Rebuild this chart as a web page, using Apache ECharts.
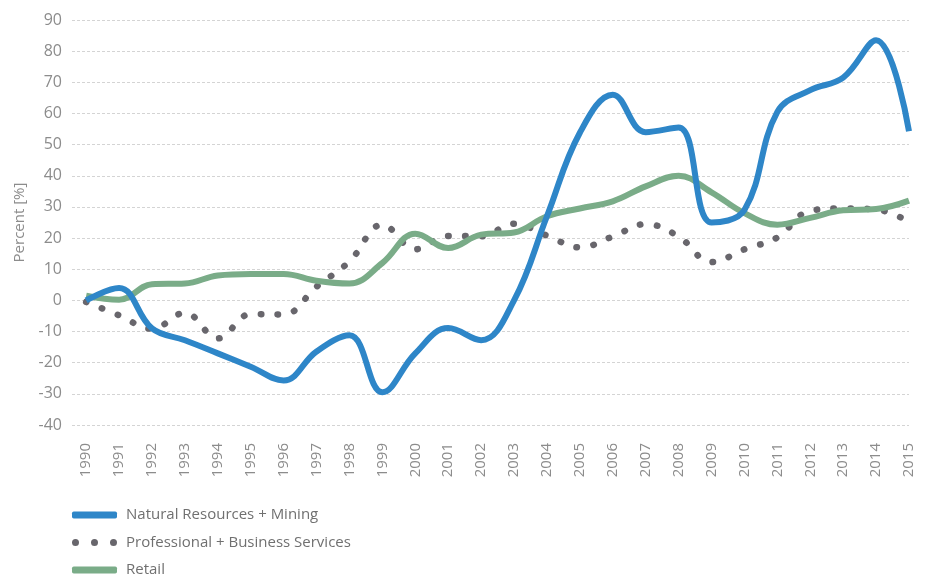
<!DOCTYPE html>
<html>
<head>
<meta charset="utf-8">
<script src="https://cdn.jsdelivr.net/npm/echarts@6/dist/echarts.min.js"></script>
<style>
  html, body { margin: 0; padding: 0; background: #fff; }
  #chart { width: 927px; height: 579px; }
</style>
</head>
<body>
<div id="chart"></div>
<script>
// 年份和三条曲线的数据
var years = [1990, 1991, 1992, 1993, 1994, 1995, 1996, 1997, 1998, 1999, 2000, 2001, 2002,
             2003, 2004, 2005, 2006, 2007, 2008, 2009, 2010, 2011, 2012, 2013, 2014, 2015];
var mining = [0, 4, -9, -12.8, -17, -21.3, -25.7, -16.4, -11.2, -29.5, -17, -8.9, -12.8,
              0, 27, 53.8, 66, 54, 55.5, 25, 29, 60.5, 67.5, 71.5, 83.5, 54.3];
var services = [-0.5, -4.8, -9.1, -4, -12.2, -4.4, -4.5, 4.4, 12.5, 24.3, 16.4, 20.7, 20.6,
                24.6, 20.8, 17, 20.5, 24.5, 20.5, 12.3, 16.4, 20.2, 28.8, 29.5, 29.2, 25.2];
var retail = [1.5, 0.2, 5.2, 5.4, 8, 8.5, 8.5, 6.3, 5.4, 12, 21.4, 16.8, 21.1,
              21.8, 27, 29.5, 31.8, 36.6, 40, 34.7, 28, 24.3, 26.5, 28.9, 29.3, 32];
var names = ['Natural Resources + Mining', 'Professional + Business Services', 'Retail'];

function pairs(vals) {
    return years.map(function(y, i) { return [y, vals[i]]; });
}

var font = 'Open Sans';
var grey = '#8c8c8c';
// 图例里的三个圆点
var dotsIcon = 'path://M0,3.5a3.5,3.5 0 1,0 7,0a3.5,3.5 0 1,0 -7,0Z' +
               'M19,3.5a3.5,3.5 0 1,0 7,0a3.5,3.5 0 1,0 -7,0Z' +
               'M38,3.5a3.5,3.5 0 1,0 7,0a3.5,3.5 0 1,0 -7,0Z';

var myChart = echarts.init(document.getElementById('chart'));

var option = {
    animation: false,
    grid: { left: 72, right: 18, top: 20, bottom: 154 },
    legend: {
        orient: 'vertical',
        left: 72,
        top: 507,
        padding: 0,
        itemWidth: 45,
        itemHeight: 7,
        itemGap: 11.5,
        textStyle: { fontFamily: font, fontSize: 15, lineHeight: 16, color: '#707070', padding: [0, 0, 0, 4] },
        data: [
            { name: names[0], icon: 'roundRect' },
            { name: names[1], icon: dotsIcon },
            { name: names[2], icon: 'roundRect' }
        ]
    },
    xAxis: {
        type: 'value',
        min: 1989.57,
        max: 2015,
        axisLine: { show: false },
        axisTick: { show: false },
        splitLine: { show: false },
        axisLabel: {
            customValues: years,
            rotate: 90,
            margin: 18,
            fontFamily: font,
            fontSize: 15,
            color: grey,
            formatter: function(v) { return String(v); }
        }
    },
    yAxis: {
        type: 'value',
        min: -40,
        max: 90,
        interval: 10,
        name: 'Percent [%]',
        nameLocation: 'middle',
        nameGap: 40,
        nameTextStyle: { fontFamily: font, fontSize: 15, color: grey },
        axisLine: { show: false },
        axisTick: { show: false },
        axisLabel: { fontFamily: font, fontSize: 16, color: grey, margin: 10 },
        splitLine: { lineStyle: { color: '#d4d4d4', type: [3, 2], width: 1 } }
    },
    series: [
        {
            name: names[0],
            type: 'line',
            smooth: 0.4,
            showSymbol: false,
            symbol: 'none',
            data: pairs(mining),
            z: 3,
            itemStyle: { color: '#2e86c8' },
            lineStyle: { color: '#2e86c8', width: 6 }
        },
        {
            name: names[1],
            type: 'line',
            smooth: 0.4,
            showSymbol: false,
            symbol: 'none',
            data: pairs(services),
            z: 1,
            itemStyle: { color: '#68666c' },
            lineStyle: { color: '#68666c', width: 6.5, type: [0.5, 16.5], cap: 'round' }
        },
        {
            name: names[2],
            type: 'line',
            smooth: 0.4,
            showSymbol: false,
            symbol: 'none',
            data: pairs(retail),
            z: 2,
            itemStyle: { color: '#7aac88' },
            lineStyle: { color: '#7aac88', width: 6 }
        }
    ]
};

myChart.setOption(option);
</script>
</body>
</html>
